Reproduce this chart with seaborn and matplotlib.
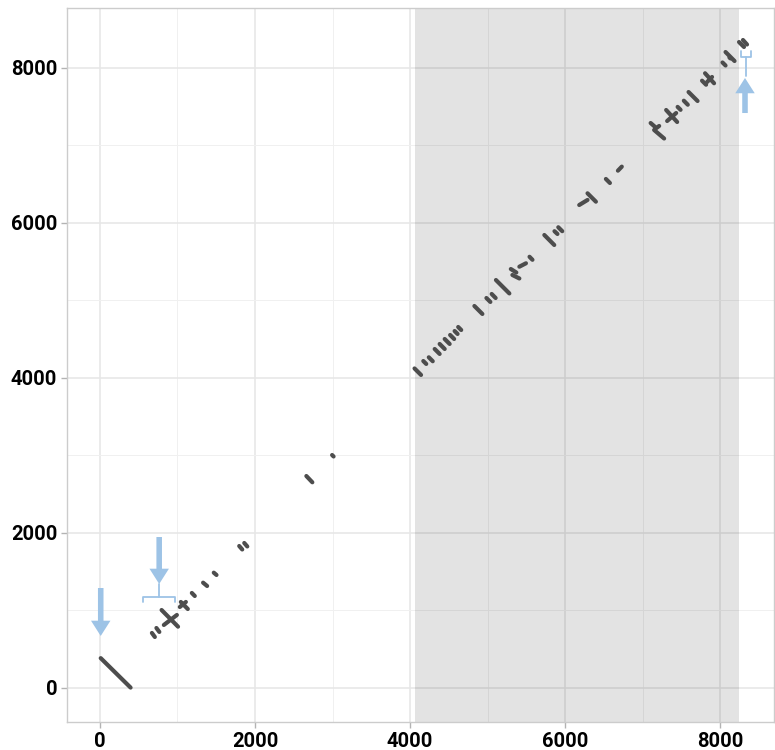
import pandas as pd
import seaborn as sns
import matplotlib.pyplot as plt
from matplotlib.patches import FancyArrowPatch

# alignment fragments: start / end of each dash (query pos, reference pos)
seg_x0 = [10, 670, 728, 795, 824, 1043, 1030, 1185, 1330, 1468, 1796, 1861, 2662, 2994,
          4057, 4170, 4241, 4317, 4381, 4446, 4516, 4574, 4620, 4829, 4984, 5052, 5107,
          5299, 5319, 5409, 5540, 5731, 5862, 5911, 6181, 6288, 6525, 6680,
          7102, 7147, 7160, 7302, 7315, 7450, 7530, 7591, 7765, 7804, 7830, 8029, 8068,
          8118, 8242, 8293]
seg_y0 = [385, 710, 774, 1006, 813, 1110, 1045, 1226, 1359, 1488, 1832, 1871, 2735, 3006,
          4123, 4219, 4267, 4374, 4439, 4503, 4555, 4606, 4658, 4929, 5032, 5084, 5264,
          5406, 5329, 5436, 5564, 5845, 5894, 5945, 6232, 6383, 6568, 6675,
          7290, 7200, 7213, 7458, 7316, 7498, 7578, 7690, 7836, 7932, 7819, 8071, 8206,
          8135, 8335, 8361]
seg_x1 = [395, 708, 766, 1007, 992, 1133, 1108, 1223, 1382, 1503, 1835, 1900, 2739, 3013,
          4141, 4208, 4292, 4381, 4446, 4510, 4568, 4612, 4659, 4932, 5035, 5103, 5280,
          5370, 5409, 5494, 5578, 5859, 5900, 5962, 6288, 6396, 6577, 6730,
          7160, 7276, 7212, 7444, 7431, 7488, 7581, 7707, 7817, 7920, 7894, 8068, 8184,
          8131, 8306, 8345]
seg_y1 = [5, 658, 723, 791, 942, 1019, 1110, 1187, 1316, 1458, 1787, 1826, 2654, 2987,
          4039, 4181, 4216, 4310, 4374, 4439, 4503, 4568, 4619, 4826, 4981, 5032, 5091,
          5361, 5284, 5480, 5525, 5716, 5858, 5894, 6297, 6275, 6516, 6727,
          7239, 7090, 7252, 7303, 7419, 7460, 7526, 7574, 7784, 7803, 7884, 8032, 8090,
          8123, 8271, 8303]

# highlighted region
shade_x0, shade_x1 = 4069, 8242

# arrows: x, tail y, tip y
arrow_x = [10, 764, 8319]
arrow_tail = [1290, 1948, 7419]
arrow_tip = [671, 1342, 7871]

# brackets: x from / to, bar y, end-tick y, stem end y
br_x0 = [549, 8264]
br_x1 = [966, 8393]
br_y = [1178, 8146]
br_end = [1113, 8219]
br_stem = [1342, 7900]

blue = "#9dc3e6"
dark = "#4d4d4d"

rows = []
for i, (a, b, c, d) in enumerate(zip(seg_x0, seg_y0, seg_x1, seg_y1)):
    rows.append((i, a, b))
    rows.append((i, c, d))
df = pd.DataFrame(rows, columns=["seg", "x", "y"])

sns.set_theme(style="white")
plt.rcParams["font.family"] = ["Roboto", "DejaVu Sans"]
plt.rcParams["font.weight"] = "bold"

fig = plt.figure(figsize=(7.75, 7.5), dpi=100)
ax = fig.add_axes([67 / 775, 28 / 750, 707 / 775, 714 / 750])

ax.set_axisbelow(True)
ax.set_xticks(range(0, 8001, 2000))
ax.set_yticks(range(0, 8001, 2000))
ax.set_xticks(range(1000, 8001, 2000), minor=True)
ax.set_yticks(range(1000, 8001, 2000), minor=True)
ax.grid(which="major", color="#e6e6e6", lw=1.1)
ax.grid(which="minor", color="#f0f0f0", lw=0.7)

ax.axvspan(shade_x0, shade_x1, color="black", alpha=0.11, lw=0, zorder=1.5)

sns.lineplot(data=df, x="x", y="y", units="seg", estimator=None, sort=False,
             color=dark, linewidth=3.0, solid_capstyle="round", ax=ax,
             zorder=3, legend=False)

for x, t0, t1 in zip(arrow_x, arrow_tail, arrow_tip):
    ax.add_patch(FancyArrowPatch((x, t0), (x, t1),
                                 arrowstyle="simple,head_length=1.1,head_width=1.4,tail_width=0.4",
                                 mutation_scale=10, color=blue, lw=0, zorder=4,
                                 shrinkA=0, shrinkB=0))

for x0, x1, y, ye, ys in zip(br_x0, br_x1, br_y, br_end, br_stem):
    ax.plot([x0, x0, x1, x1], [ye, y, y, ye], color=blue, lw=1.3, zorder=4)
    xm = (x0 + x1) / 2
    ax.plot([xm, xm], [y, ys], color=blue, lw=1.3, zorder=4)

ax.set_xlim(-425, 8693)
ax.set_ylim(-439, 8774)
ax.set_xlabel("")
ax.set_ylabel("")

for s in ax.spines.values():
    s.set_visible(True)
    s.set_color("#cccccc")
    s.set_linewidth(1)

ax.tick_params(which="major", length=4, width=1, color="#b3b3b3",
               labelsize=14.5, pad=3, bottom=True, left=True, labelcolor="black")
ax.tick_params(which="minor", length=0)
plt.setp(ax.get_xticklabels() + ax.get_yticklabels(), fontweight="bold")

plt.savefig("out.png", dpi=100)
